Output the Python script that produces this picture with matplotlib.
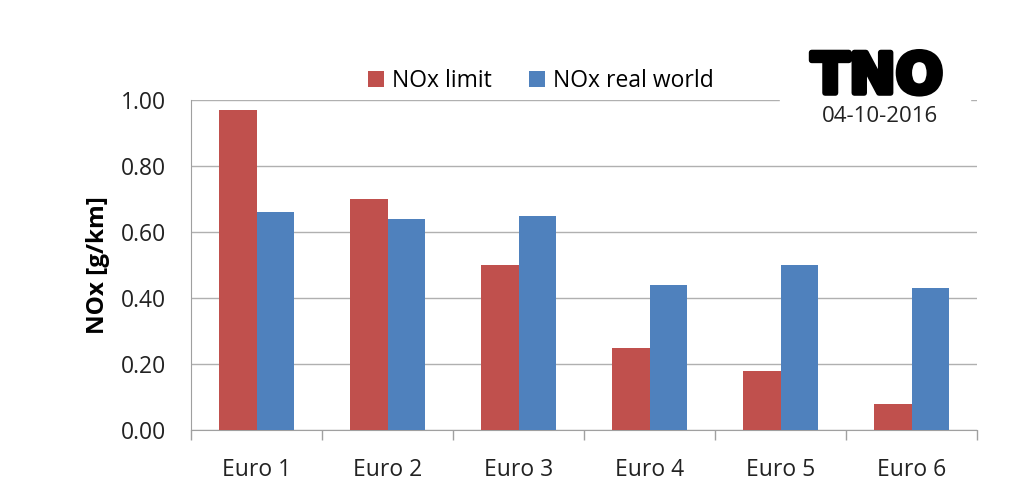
import numpy as np
import matplotlib.pyplot as plt
import matplotlib.patheffects as pe

categories = ['Euro 1', 'Euro 2', 'Euro 3', 'Euro 4', 'Euro 5', 'Euro 6']
nox_limit = [0.97, 0.70, 0.50, 0.25, 0.18, 0.08]
nox_real = [0.66, 0.64, 0.65, 0.44, 0.50, 0.43]
yticks = [0.0, 0.2, 0.4, 0.6, 0.8, 1.0]

red = '#C0504D'
blue = '#4F81BD'

plt.rcParams['font.family'] = ['Open Sans', 'DejaVu Sans']

fig = plt.figure(figsize=(10.24, 4.99), dpi=100)
ax = fig.add_axes([191/1024, 1-430/499, (977-191)/1024, 330/499])

x = np.arange(len(categories))
w = 0.285
ax.bar(x - w/2, nox_limit, w, color=red, label='NOx limit', zorder=3)
ax.bar(x + w/2, nox_real, w, color=blue, label='NOx real world', zorder=3)

ax.set_xlim(-0.5, len(categories) - 0.5)
ax.set_ylim(0, 1.0)
ax.set_yticks(yticks)
ax.set_yticklabels(['%.2f' % v for v in yticks], fontsize=16.5, color='#222222')
ax.yaxis.grid(True, color='#b0b0b0', linewidth=1.0, zorder=0)
ax.tick_params(axis='y', length=0, pad=18)

# category ticks at boundaries, labels centred
ax.set_xticks(np.arange(len(categories) + 1) - 0.5)
ax.set_xticklabels([])
ax.set_xticks(x, minor=True)
ax.set_xticklabels(categories, minor=True, fontsize=16.5, color='#222222')
ax.tick_params(axis='x', which='major', length=7, color='#a0a0a0', width=1)
ax.tick_params(axis='x', which='minor', length=0, pad=20)

for s in ['top', 'right']:
    ax.spines[s].set_visible(False)
for s in ['left', 'bottom']:
    ax.spines[s].set_color('#a0a0a0')

ax.set_ylabel('NOx [g/km]', fontsize=17.5, fontweight='bold', labelpad=8)

leg = ax.legend(loc='lower center', bbox_to_anchor=(0.445, 0.985), ncol=2, frameon=False,
                fontsize=16.5, handlelength=0.7, handleheight=0.7, columnspacing=1.6,
                handletextpad=0.35, borderaxespad=0.1)

# logo area covers the top gridline
fig.patches.append(plt.Rectangle((780/1024, 1-130/499), 190/1024, 110/499,
                                 transform=fig.transFigure, color='white', zorder=5))
fig.text(877/1024, 1-78/499, 'TNO', fontsize=40, fontweight='black', ha='center',
         va='center', color='black', zorder=6, family='DejaVu Sans',
         path_effects=[pe.withStroke(linewidth=4, foreground='black')])
fig.text(880/1024, 1-116/499, '04-10-2016', fontsize=16, ha='center', va='center',
         color='#222222', zorder=6)

fig.savefig('out.png', dpi=100)
